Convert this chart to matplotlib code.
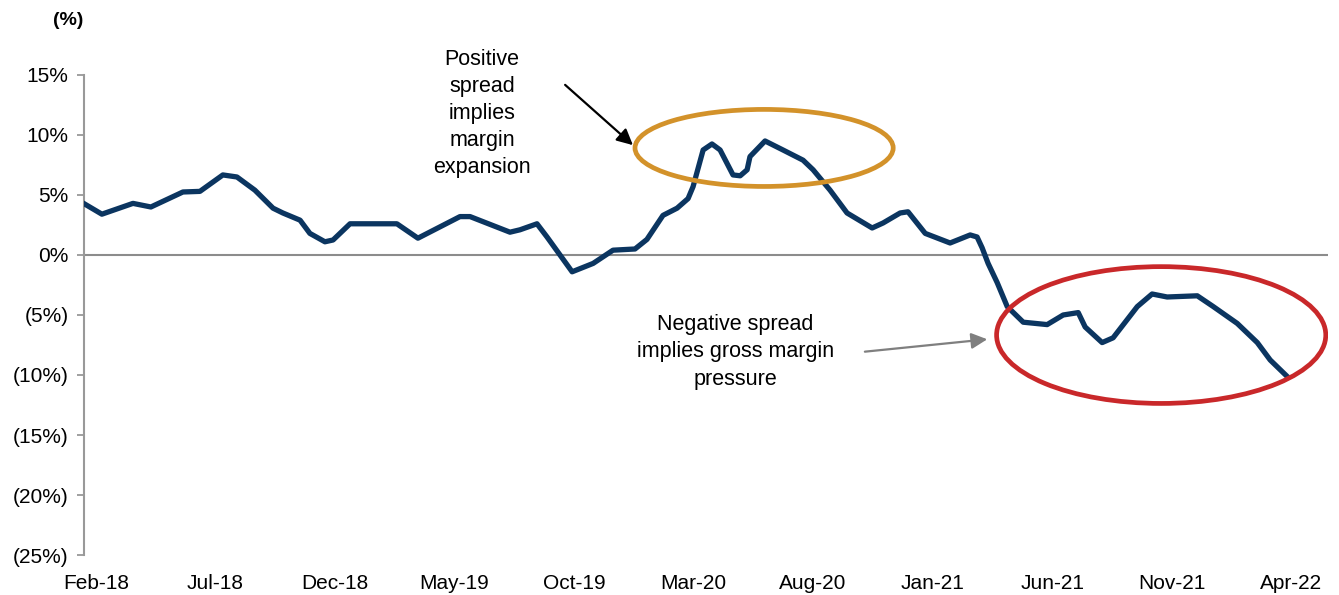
# spread chart with annotated ellipses
import matplotlib.pyplot as plt
from matplotlib.patches import Ellipse

plt.rcParams['font.family'] = ['Liberation Sans', 'DejaVu Sans']

# months since Feb-18 and spread in %
months = [-0.54, 0.25, 1.55, 2.3, 3.64, 4.35, 5.31, 5.9, 6.65, 7.41, 7.82, 8.54,
          8.95, 9.58, 9.92, 10.63, 12.59, 13.47, 15.23, 15.65, 17.32, 17.74,
          18.45, 18.87, 19.92, 20.8, 21.63, 22.55, 23.05, 23.72, 24.31, 24.77,
          24.98, 25.4, 25.77, 26.11, 26.65, 26.95, 27.24, 27.36, 27.99, 28.74,
          29.58, 30.0, 30.71, 31.42, 32.47, 32.93, 33.64, 33.97, 34.69, 35.73,
          36.57, 36.86, 37.07, 37.32, 37.7, 38.12, 38.79, 39.79, 40.46, 41.09,
          41.38, 42.09, 42.55, 43.56, 44.18, 44.81, 46.07, 46.74, 47.74, 48.58,
          49.12, 49.87]
spread = [4.33, 3.4, 4.3, 4.0, 5.25, 5.3, 6.67, 6.5, 5.4, 3.9, 3.5, 2.9,
          1.8, 1.1, 1.25, 2.6, 2.6, 1.4, 3.2, 3.2, 1.9, 2.1,
          2.6, 1.5, -1.4, -0.7, 0.4, 0.5, 1.3, 3.3, 3.9, 4.7,
          5.7, 8.75, 9.25, 8.75, 6.67, 6.6, 7.1, 8.2, 9.5, 8.75,
          7.9, 7.1, 5.4, 3.5, 2.25, 2.67, 3.5, 3.6, 1.8, 1.0,
          1.67, 1.5, 0.6, -0.7, -2.3, -4.3, -5.6, -5.8, -5.0, -4.8,
          -6.0, -7.3, -6.9, -4.3, -3.25, -3.5, -3.4, -4.3, -5.7, -7.3,
          -8.75, -10.2]

tick_months = [0, 5, 10, 15, 20, 25, 30, 35, 40, 45, 50]
tick_labels = ["Feb-18", "Jul-18", "Dec-18", "May-19", "Oct-19", "Mar-20",
               "Aug-20", "Jan-21", "Jun-21", "Nov-21", "Apr-22"]
y_ticks = [15, 10, 5, 0, -5, -10, -15, -20, -25]
y_labels = ["15%", "10%", "5%", "0%", "(5%)", "(10%)", "(15%)", "(20%)", "(25%)"]

fig = plt.figure(figsize=(13.39, 5.95), dpi=100)
ax = fig.add_axes([0.0627, 0.0672, 0.9293, 0.8068])

ax.axhline(0, color="#8c8c8c", lw=1.5, zorder=1)
ax.plot(months, spread, color="#0b3560", lw=3.8, solid_joinstyle="round",
        solid_capstyle="round", zorder=3)

ax.set_xlim(-0.5, 51.55)
ax.set_ylim(-25, 15)
ax.set_xticks(tick_months)
ax.set_xticklabels(tick_labels, fontsize=15)
ax.set_yticks(y_ticks)
ax.set_yticklabels(y_labels, fontsize=15)
ax.tick_params(axis="x", length=0, pad=14)
ax.tick_params(axis="y", length=5, width=1.3, color="#999999", pad=6)
for s in ["top", "right", "bottom"]:
    ax.spines[s].set_visible(False)
ax.spines["left"].set_color("#999999")
ax.spines["left"].set_linewidth(1.5)

# ellipses
ax.add_patch(Ellipse((27.95, 8.92), 10.8, 6.42, fill=False, edgecolor="#d3922a", lw=3.4, zorder=4))
ax.add_patch(Ellipse((44.56, -6.67), 13.77, 11.4, fill=False, edgecolor="#c9282a", lw=3.4, zorder=4))

# annotations
ax.text(16.15, 11.8, "Positive\nspread\nimplies\nmargin\nexpansion", ha="center", va="center",
        fontsize=15.5, linespacing=1.38)
ax.annotate("", xy=(22.55, 9.0), xytext=(19.54, 14.33),
            arrowprops=dict(arrowstyle="-|>", color="black", lw=1.6, mutation_scale=24))
ax.text(26.74, -8.08, "Negative spread\nimplies gross margin\npressure", ha="center", va="center",
        fontsize=15.5, linespacing=1.4)
ax.annotate("", xy=(37.4, -7.0), xytext=(32.05, -8.08),
            arrowprops=dict(arrowstyle="-|>", color="#7f7f7f", lw=1.6, mutation_scale=24))

fig.text(0.0508, 0.966, "(%)", fontsize=14, fontweight="bold", ha="center", va="center")

fig.savefig("out.png", dpi=100)
